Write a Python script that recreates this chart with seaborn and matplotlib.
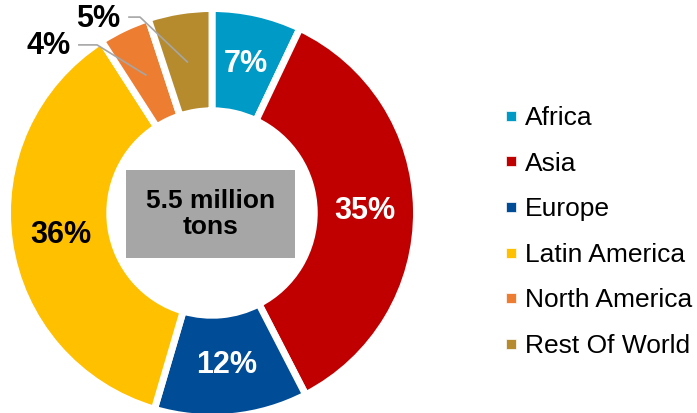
import matplotlib
matplotlib.use("Agg")
import matplotlib.pyplot as plt
from matplotlib.lines import Line2D
from matplotlib.patches import Rectangle
import numpy as np
import seaborn as sns

# Regional shares (percent)
regions = ["Africa", "Asia", "Europe", "Latin America", "North America", "Rest Of World"]
shares = [7, 35, 12, 36, 4, 5]
colors = ["#009AC7", "#C00000", "#004C97", "#FFC000", "#ED7D31", "#B58B2E"]
pct_labels = ["7%", "35%", "12%", "36%", "4%", "5%"]
total_label = "5.5 million\ntons"

sns.set_theme(style="white")
plt.rcParams["font.family"] = ["Liberation Sans", "DejaVu Sans"]
plt.rcParams["text.color"] = "black"

W, H = 697, 413
fig = plt.figure(figsize=(W / 100, H / 100), dpi=100)

# Donut geometry in pixels: centre and outer radius
cx, cy, R = 212, 213, 204.5
lim = 1.05
half = lim * R
ax = fig.add_axes([(cx - half) / W, (H - cy - half) / H, 2 * half / W, 2 * half / H])

palette = sns.color_palette(colors)
wedges, _ = ax.pie(
    shares, colors=palette, startangle=90, counterclock=False, radius=1.0,
    wedgeprops=dict(width=0.5, edgecolor="white", linewidth=5),
)
ax.set_xlim(-lim, lim)
ax.set_ylim(-lim, lim)
ax.set_axis_off()
for w in wedges:
    w.set_clip_on(False)

# Percentage labels
r_lab = 0.745
pct_size = 22
inside = {0: "white", 1: "white", 2: "white", 3: "black"}
for i, w in enumerate(wedges):
    mid = np.deg2rad((w.theta1 + w.theta2) / 2)
    px, py = r_lab * np.cos(mid), r_lab * np.sin(mid)
    if i in inside:
        ax.text(px, py, pct_labels[i], ha="center", va="center",
                fontsize=pct_size, fontweight="bold", color=inside[i])

# Small slices: labels outside with elbow leader lines
outside = {
    4: dict(text=(-0.80, 0.815), start=(-0.655, 0.822), elbow=(-0.562, 0.822)),
    5: dict(text=(-0.557, 0.950), start=(-0.41, 0.958), elbow=(-0.352, 0.958)),
}
for i, spec in outside.items():
    w = wedges[i]
    mid = np.deg2rad((w.theta1 + w.theta2) / 2)
    px, py = r_lab * np.cos(mid), r_lab * np.sin(mid)
    xs = [spec["start"][0], spec["elbow"][0], px]
    ys = [spec["start"][1], spec["elbow"][1], py]
    ax.plot(xs, ys, color="#A6A6A6", lw=1.2, clip_on=False, solid_capstyle="butt")
    ax.text(spec["text"][0], spec["text"][1], pct_labels[i], ha="center", va="center",
            fontsize=pct_size, fontweight="bold", color="black")

# Centre total box
bx0, bx1 = (126 - cx) / R, (295 - cx) / R
by0, by1 = (cy - 258) / R, (cy - 170) / R
ax.add_patch(Rectangle((bx0, by0), bx1 - bx0, by1 - by0, facecolor="#A6A6A6",
                       edgecolor="none", zorder=3))
ax.text((bx0 + bx1) / 2, (by0 + by1) / 2, total_label, ha="center", va="center",
        fontsize=19, fontweight="bold", color="black", linespacing=1.12, zorder=4)

# Legend
handles = [Line2D([0], [0], marker="s", linestyle="none", markersize=7,
                  markerfacecolor=c, markeredgecolor="white", markeredgewidth=0.5)
           for c in palette]
leg = fig.legend(handles, regions, loc="center left",
                 bbox_to_anchor=(504 / W, (H - 232) / H), frameon=False,
                 fontsize=19, handlelength=0.5, handletextpad=0.3,
                 labelspacing=0.82, borderpad=0, borderaxespad=0)
for t in leg.get_texts():
    t.set_color("black")

fig.savefig("out.png", dpi=100)
